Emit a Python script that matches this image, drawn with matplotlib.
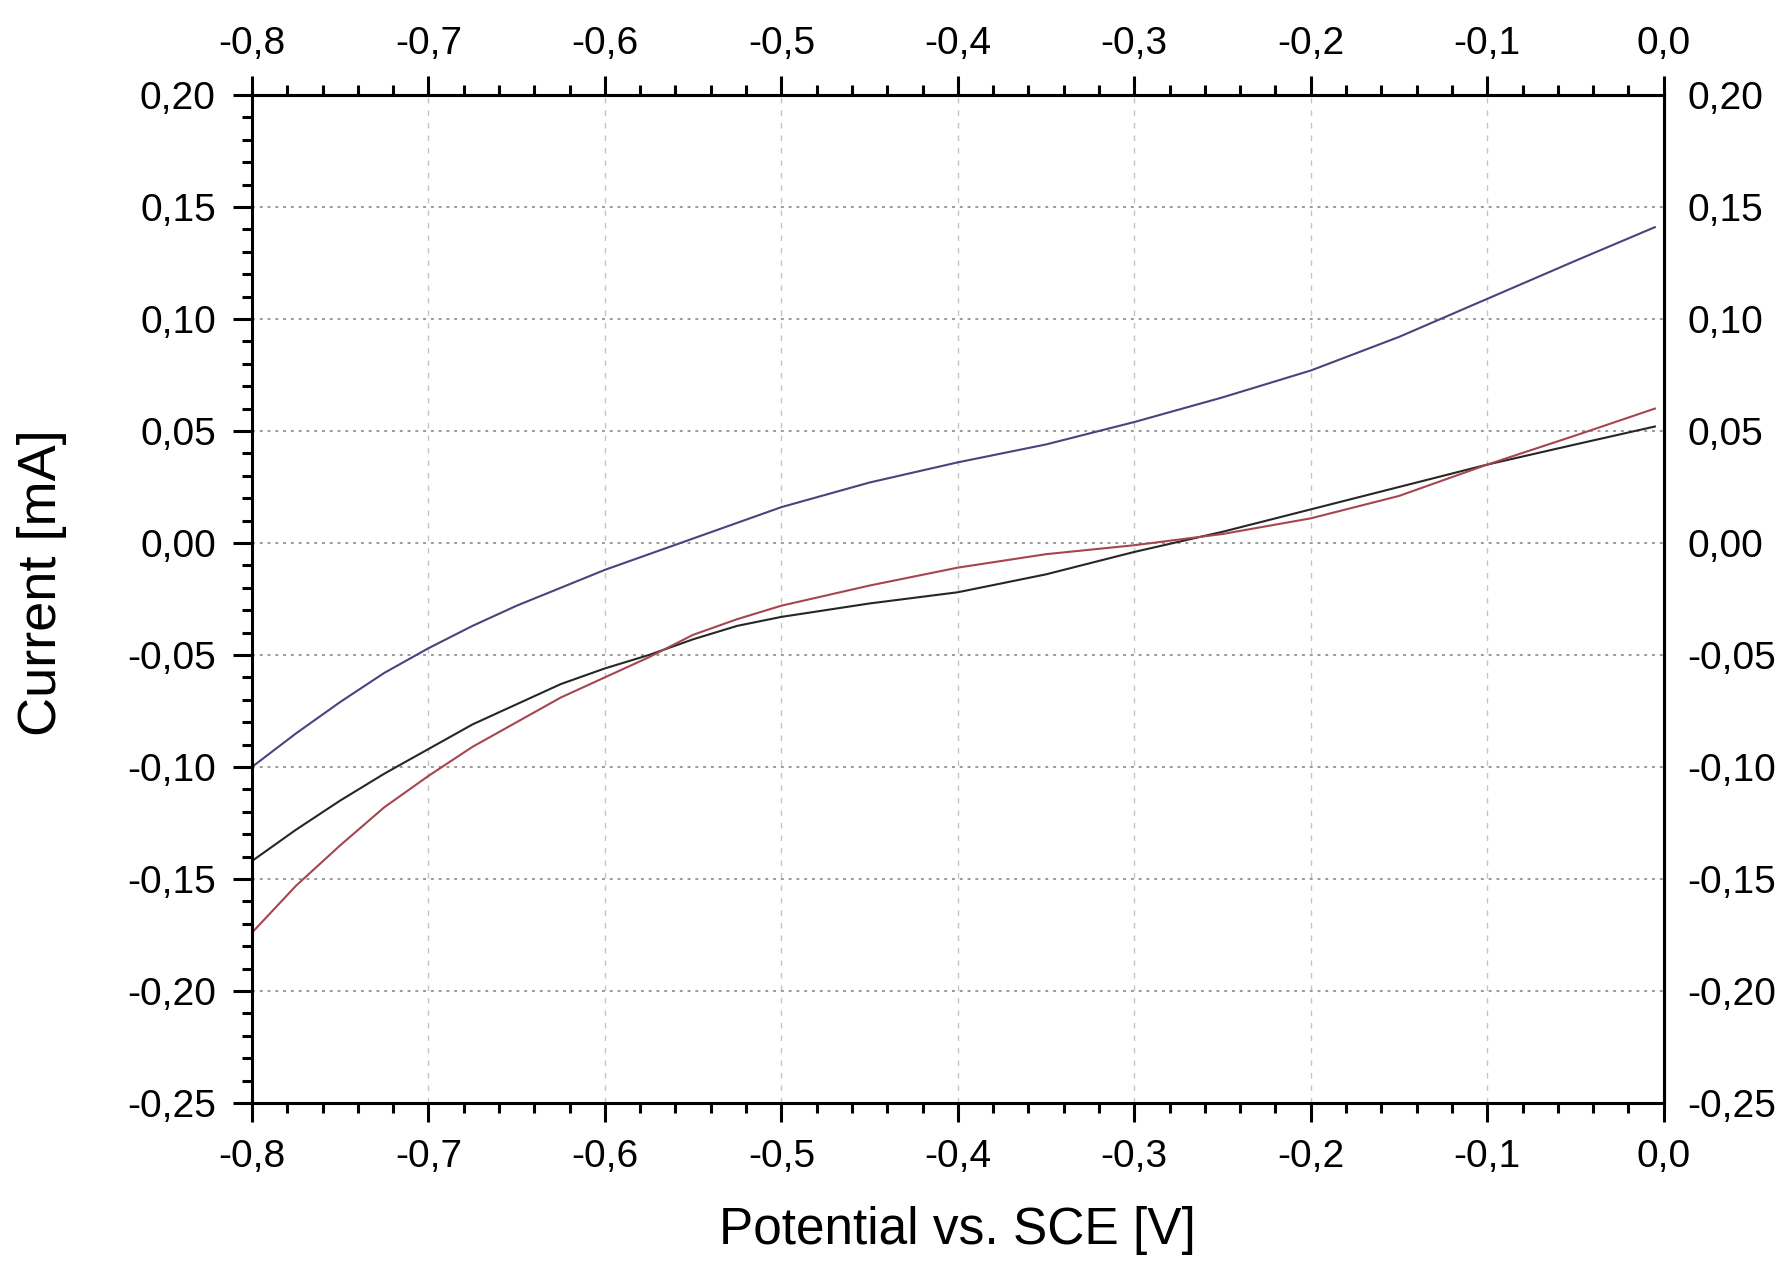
import matplotlib
matplotlib.use("Agg")
from matplotlib import pyplot as plt
from matplotlib.ticker import MultipleLocator, FuncFormatter

plt.rcParams['font.family'] = ['Liberation Sans', 'DejaVu Sans']

# potential [V]
potential = [-0.80, -0.775, -0.75, -0.725, -0.70, -0.675, -0.65, -0.625, -0.60,
             -0.575, -0.55, -0.525, -0.50, -0.45, -0.40, -0.35, -0.30, -0.25,
             -0.20, -0.15, -0.10, -0.05, -0.005]

# current [mA] for the three scans
current_blue = [-0.100, -0.085, -0.071, -0.058, -0.047, -0.037, -0.028, -0.020, -0.012,
                -0.005, 0.002, 0.009, 0.016, 0.027, 0.036, 0.044, 0.054, 0.065,
                0.077, 0.092, 0.109, 0.126, 0.141]
current_black = [-0.142, -0.128, -0.115, -0.103, -0.092, -0.081, -0.072, -0.063, -0.056,
                 -0.050, -0.043, -0.037, -0.033, -0.027, -0.022, -0.014, -0.004, 0.005,
                 0.015, 0.025, 0.035, 0.044, 0.052]
current_red = [-0.174, -0.153, -0.135, -0.118, -0.104, -0.091, -0.080, -0.069, -0.060,
               -0.051, -0.041, -0.034, -0.028, -0.019, -0.011, -0.005, -0.001, 0.004,
               0.011, 0.021, 0.035, 0.048, 0.060]

fig = plt.figure(figsize=(17.87, 12.67), dpi=100)
ax = fig.add_axes([0.141, 0.1295, 0.790, 0.7955])

ax.plot(potential, current_blue, color='#45457f', lw=1.5)
ax.plot(potential, current_black, color='#262626', lw=1.5)
ax.plot(potential, current_red, color='#a5464e', lw=1.5)

ax.set_xlim(-0.8, 0.0)
ax.set_ylim(-0.25, 0.20)

ax.xaxis.set_major_locator(MultipleLocator(0.1))
ax.xaxis.set_minor_locator(MultipleLocator(0.02))
ax.yaxis.set_major_locator(MultipleLocator(0.05))
ax.yaxis.set_minor_locator(MultipleLocator(0.01))

def comma(fmt):
    def f(v, pos):
        if abs(v) < 1e-9:
            v = 0.0
        return fmt.format(v).replace('.', ',')
    return FuncFormatter(f)

ax.xaxis.set_major_formatter(comma('{:.1f}'))
ax.yaxis.set_major_formatter(comma('{:.2f}'))

ax.tick_params(axis='both', which='major', direction='out', length=14, width=2.2,
               labelsize=28, pad=12)
ax.tick_params(axis='both', which='minor', direction='out', length=7, width=2.2)
ax.tick_params(axis='y', which='both', right=False)
ax.tick_params(axis='x', which='both', top=False)

for s in ax.spines.values():
    s.set_linewidth(2.2)

ax.xaxis.grid(True, color='#c4c4c4', ls=(0, (4, 5)), lw=1.0)
ax.yaxis.grid(True, color='#9a9a9a', ls=(0, (1.5, 2.5)), lw=1.4)

# top axis with ticks and labels
axt = ax.secondary_xaxis('top')
axt.xaxis.set_major_locator(MultipleLocator(0.1))
axt.xaxis.set_minor_locator(MultipleLocator(0.02))
axt.xaxis.set_major_formatter(comma('{:.1f}'))
axt.tick_params(axis='x', which='major', direction='out', length=14, width=2.2,
                labelsize=28, pad=10)
axt.tick_params(axis='x', which='minor', direction='out', length=7, width=2.2)
axt.spines['top'].set_linewidth(2.2)

# right-hand labels without tick marks
axr = ax.secondary_yaxis('right')
axr.yaxis.set_major_locator(MultipleLocator(0.05))
axr.yaxis.set_major_formatter(comma('{:.2f}'))
axr.tick_params(axis='y', which='both', length=0, labelsize=28, pad=17)
axr.spines['right'].set_linewidth(2.2)

ax.set_xlabel('Potential vs. SCE [V]', fontsize=37, labelpad=22)
ax.set_ylabel('Current [mA]', fontsize=39)
ax.yaxis.set_label_coords(-0.131, 0.516)

fig.savefig('out.png', dpi=100)
